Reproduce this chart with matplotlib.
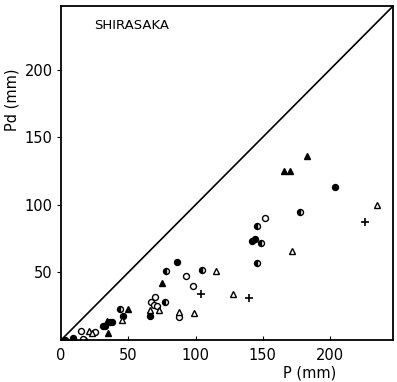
import numpy as np
from matplotlib import pyplot as plt

# data (P, Pd in mm)
fc_p = [3, 9, 17, 31, 33, 36, 38, 46, 66, 86, 142, 144, 204]
fc_pd = [0, 1.5, 0, 10, 10, 13, 13, 18, 18, 58, 73, 75, 113]

hc_p = [44, 78, 77, 105, 146, 149, 146, 178]
hc_pd = [23, 51, 28, 51.5, 84, 72, 57, 95]

oc_p = [15, 16, 25, 70, 67, 69, 71, 88, 93, 98, 152]
oc_pd = [7, 1, 6, 32, 28, 26, 25, 17, 47, 40, 90]

ft_p = [35, 34, 50, 75, 166, 170, 183]
ft_pd = [5, 14, 23, 42.5, 125, 125, 136]

ot_p = [21, 23, 45, 66, 73, 88, 99, 115, 128, 172, 235]
ot_pd = [7, 5, 15, 22, 22, 21, 20, 51, 34, 66, 100]

pl_p = [104, 140, 226]
pl_pd = [34, 31, 87]

xticks = [0, 50, 100, 150, 200]
yticks = [50, 100, 150, 200]
lim = 247

plt.rcParams['font.family'] = ['DejaVu Sans']
fig = plt.figure(figsize=(3.97, 3.82), dpi=100)
ax = fig.add_axes([0.154, 0.11, 0.836, 0.874])

ax.plot([0, lim], [0, lim], color='black', lw=1.2)

ms = 4.3
ax.plot(fc_p, fc_pd, 'o', color='black', ms=ms, mew=1)
ax.plot(hc_p, hc_pd, 'o', color='black', ms=ms, mew=1, fillstyle='left',
        markerfacecolor='black', markerfacecoloralt='white')
ax.plot(oc_p, oc_pd, 'o', color='black', ms=ms, mew=1, markerfacecolor='white')
ax.plot(ft_p, ft_pd, '^', color='black', ms=ms, mew=1)
ax.plot(ot_p, ot_pd, '^', color='black', ms=ms, mew=1, markerfacecolor='white')
ax.plot(pl_p, pl_pd, '+', color='black', ms=ms + 1, mew=1.2)

ax.set_xlim(0, lim)
ax.set_ylim(0, lim)
ax.set_xticks(xticks)
ax.set_yticks(yticks)
ax.tick_params(axis='x', direction='in', length=3, labelsize=10.5, pad=6)
ax.tick_params(axis='y', direction='out', length=3, labelsize=10.5, pad=3)
for s in ax.spines.values():
    s.set_linewidth(1.3)

ax.text(0.1, 0.93, 'SHIRASAKA', transform=ax.transAxes, fontsize=9.5)
ax.set_xlabel('P (mm)', fontsize=10.5)
ax.set_ylabel('Pd (mm)', fontsize=10.5)
ax.xaxis.set_label_coords(0.75, -0.075)
ax.yaxis.set_label_coords(-0.125, 0.72)

plt.savefig('out.png', dpi=100)
